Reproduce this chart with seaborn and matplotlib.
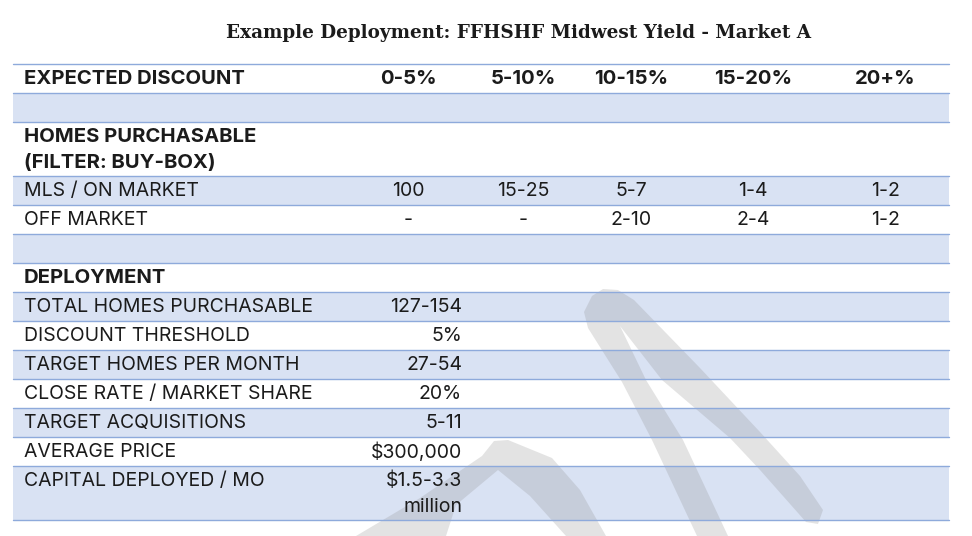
import matplotlib
matplotlib.use("Agg")
import matplotlib.pyplot as plt
import seaborn as sns

# table content
title = "Example Deployment: FFHSHF Midwest Yield - Market A"
discount_bands = ["0-5%", "5-10%", "10-15%", "15-20%", "20+%"]
on_market = ["100", "15-25", "5-7", "1-4", "1-2"]
off_market = ["-", "-", "2-10", "2-4", "1-2"]
deploy_labels = ["TOTAL HOMES PURCHASABLE", "DISCOUNT THRESHOLD",
                 "TARGET HOMES PER MONTH", "CLOSE RATE / MARKET SHARE",
                 "TARGET ACQUISITIONS", "AVERAGE PRICE",
                 "CAPITAL DEPLOYED / MO"]
deploy_values = ["127-154", "5%", "27-54", "20%", "5-11", "$300,000",
                 "$1.5-3.3\nmillion"]

SHADE = "#D9E2F3"
RULE = "#8EAADB"
INK = "#1b1b1b"
W, H = 972, 536
LEFT, RIGHT, TOP = 13, 949, 64
ROW_H, LINE_H = 29, 26
COL_X = [408, 523, 631, 753, 885]
VAL_RIGHT = 462
FS, FS_BOLD = 14, 14.6


def build_rows():
    # (label, values, bold, shaded, values right aligned in first column)
    rows = [("EXPECTED DISCOUNT", discount_bands, True, False, False),
            ("", [], False, True, False),
            ("HOMES PURCHASABLE\n(FILTER: BUY-BOX)", [], True, False, False),
            ("MLS / ON MARKET", on_market, False, True, False),
            ("OFF MARKET", off_market, False, False, False),
            ("", [], False, True, False),
            ("DEPLOYMENT", [], True, False, False)]
    for i, (lab, val) in enumerate(zip(deploy_labels, deploy_values)):
        rows.append((lab, [val], False, i % 2 == 0, True))
    return rows


def draw_watermark(ax):
    # faint grey logo strokes behind the table
    shapes = [
        [(697, 536), (652, 440), (622, 382), (588, 328), (584, 312),
         (592, 296), (603, 289), (618, 290), (634, 300), (700, 368),
         (760, 432), (800, 476), (823, 510), (818, 524), (806, 522),
         (760, 470), (730, 438), (662, 380), (620, 326), (646, 380),
         (683, 440), (728, 536)],
        [(356, 536), (420, 498), (482, 456), (494, 441), (508, 440),
         (552, 458), (580, 490), (606, 536), (566, 536), (530, 496),
         (498, 470), (456, 505), (446, 536)],
    ]
    for pts in shapes:
        xs, ys = zip(*pts)
        ax.fill(xs, ys, color="#8c8c8c", alpha=0.24, lw=0, zorder=2)


def put(ax, x, y, s, ha, bold):
    ax.text(x, y, s, ha=ha, va="center", color=INK, zorder=4,
            fontsize=FS_BOLD if bold else FS,
            fontweight="bold" if bold else "normal")


def draw_table(ax, rows):
    y = TOP
    bounds = [y]
    for lab, vals, bold, shaded, right in rows:
        nlines = max([lab.count("\n")] + [v.count("\n") for v in vals]) + 1
        h = ROW_H if nlines == 1 else ROW_H + LINE_H - 1
        if shaded:
            ax.axhspan(y, y + h, xmin=LEFT / W, xmax=RIGHT / W,
                       color=SHADE, lw=0, zorder=1)
        for k, line in enumerate(lab.split("\n")):
            put(ax, 24, y + 15 + k * LINE_H, line, "left", bold)
        for j, v in enumerate(vals):
            for k, line in enumerate(v.split("\n")):
                if right:
                    put(ax, VAL_RIGHT, y + 15 + k * LINE_H, line, "right", bold)
                else:
                    put(ax, COL_X[j], y + 15 + k * LINE_H, line, "center", bold)
        y += h
        bounds.append(y)
    for b in bounds:
        ax.plot([LEFT, RIGHT], [b, b], color=RULE, lw=1.0, zorder=3)


sns.set_theme(style="white")
plt.rcParams["font.family"] = ["Inter", "DejaVu Sans"]

fig = plt.figure(figsize=(W / 100, H / 100), dpi=100)
ax = fig.add_axes([0, 0, 1, 1])
ax.set_xlim(0, W)
ax.set_ylim(H, 0)
ax.axis("off")

draw_watermark(ax)
draw_table(ax, build_rows())

ax.text(518, 33, title, ha="center", va="center", fontsize=13.2,
        fontweight="bold", family="DejaVu Serif", color=INK)

fig.savefig("out.png", dpi=100, facecolor="white")
